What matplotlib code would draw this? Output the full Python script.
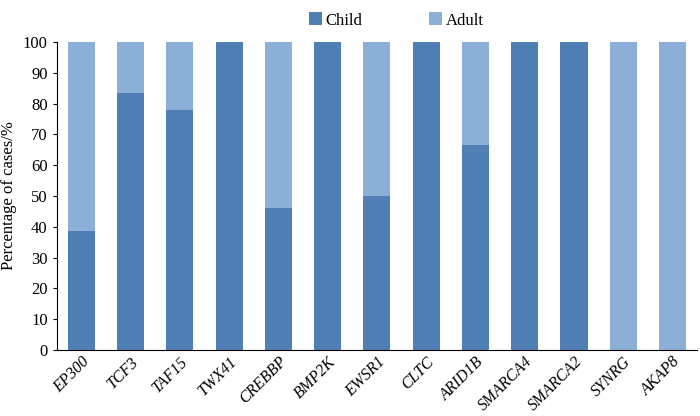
import matplotlib.pyplot as plt
import numpy as np

genes = ["EP300", "TCF3", "TAF15", "TWX41", "CREBBP", "BMP2K", "EWSR1",
         "CLTC", "ARID1B", "SMARCA4", "SMARCA2", "SYNRG", "AKAP8"]
child = [38.5, 83.3, 77.8, 100, 46.2, 100, 50, 100, 66.7, 100, 100, 0, 0]
adult = [61.5, 16.7, 22.2, 0, 53.8, 0, 50, 0, 33.3, 0, 0, 100, 100]

plt.rcParams["font.family"] = ["Liberation Serif", "DejaVu Serif"]

fig = plt.figure(figsize=(7, 4.16), dpi=100)
ax = fig.add_axes([0.081, 0.159, 0.915, 0.74])

x = np.arange(len(genes))
ax.bar(x, child, width=0.55, color="#4f7fb5", label="Child")
ax.bar(x, adult, width=0.55, bottom=child, color="#8cafd8", label="Adult")

ax.set_xlim(-0.5, len(genes) - 0.5)
ax.set_ylim(0, 100)
ax.set_yticks(range(0, 101, 10))
ax.set_xticks(x)
ax.set_xticklabels(genes, rotation=45, ha="right", rotation_mode="anchor",
                   fontstyle="italic", fontsize=11.5)
ax.tick_params(axis="x", length=0, pad=3)
ax.tick_params(axis="y", labelsize=12, length=3)
ax.set_ylabel("Percentage of cases/%", fontsize=12)
for s in ["top", "right"]:
    ax.spines[s].set_visible(False)

ax.legend(loc="upper center", bbox_to_anchor=(0.53, 1.145), ncol=2, frameon=False,
          fontsize=12, handlelength=0.8, handleheight=0.8, columnspacing=4,
          handletextpad=0.2)

fig.savefig("out.png")
